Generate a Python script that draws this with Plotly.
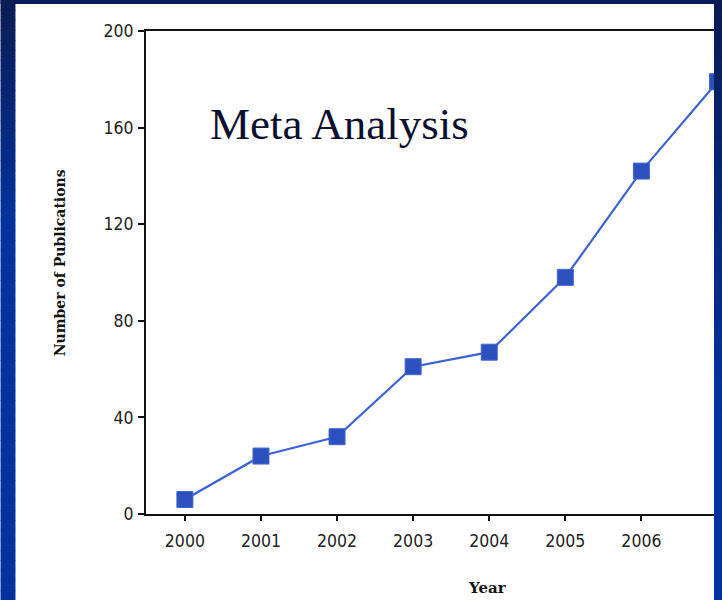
import plotly.graph_objects as go

# Publication counts per year
years = [2000, 2001, 2002, 2003, 2004, 2005, 2006, 2007]
publications = [6, 24, 32, 61, 67, 98, 142, 179]
y_ticks = [0, 40, 80, 120, 160, 200]

W, H = 722, 600
L, R, T, B = 146, 0, 31, 86
PW, PH = W - L - R, H - T - B


def px(x):
    return (x - L) / PW


def py(y):
    return (H - B - y) / PH


def hexmix(c1, c2, t):
    a = [int(c1[i:i + 2], 16) for i in (1, 3, 5)]
    b = [int(c2[i:i + 2], 16) for i in (1, 3, 5)]
    return "#" + "".join(f"{round(a[k] + (b[k] - a[k]) * t):02x}" for k in range(3))


DARK, BRIGHT = "#0a1c52", "#0033a0"

fig = go.Figure()
fig.add_trace(go.Scatter(
    x=years, y=publications, mode="lines+markers",
    line=dict(color="#3d62d2", width=2.2),
    marker=dict(symbol="square", size=16, color="#2d50bf",
                line=dict(color="#4466cc", width=1)),
    cliponaxis=True, hoverinfo="x+y",
))

shapes = []
# slide background strips (top, left and right edges) with a vertical gradient
shapes.append(dict(type="rect", xref="paper", yref="paper", layer="above",
                   x0=px(0), x1=px(W), y0=py(0), y1=py(4),
                   fillcolor=DARK, line=dict(width=0)))
step = 10
for y0 in range(0, H, step):
    tl = min(1.0, (y0 + step / 2) / 230)
    tr = min(1.0, (y0 + step / 2) / 420)
    shapes.append(dict(type="rect", xref="paper", yref="paper", layer="above",
                       x0=px(0), x1=px(15), y0=py(y0), y1=py(y0 + step + 0.5),
                       fillcolor=hexmix(DARK, BRIGHT, tl), line=dict(width=0)))
    shapes.append(dict(type="rect", xref="paper", yref="paper", layer="above",
                       x0=px(716), x1=px(W + 2), y0=py(y0), y1=py(y0 + step + 0.5),
                       fillcolor=hexmix(DARK, BRIGHT, tr), line=dict(width=0)))

tick_font = dict(family="DejaVu Sans Condensed, DejaVu Sans, sans-serif",
                 size=17.5, color="#222222")
title_font = dict(family="DejaVu Serif, Liberation Serif, serif", size=15, color="#111111")

annotations = [
    dict(text="Meta Analysis", xref="paper", yref="paper", x=px(340), y=py(124),
         xanchor="center", yanchor="middle", showarrow=False,
         font=dict(family="Liberation Serif, serif", size=45, color="#0b1030")),
    dict(text="<b>Year</b>", xref="paper", yref="paper", x=px(489), y=py(588),
         xanchor="center", yanchor="middle", showarrow=False, font=title_font),
    dict(text="<b>Number of Publications</b>", xref="paper", yref="paper",
         x=px(60), y=py(263), xanchor="center", yanchor="middle", textangle=-90,
         showarrow=False, font=dict(title_font, size=14)),
]

fig.update_layout(
    width=W, height=H,
    margin=dict(l=L, r=R, t=T, b=B),
    paper_bgcolor="white", plot_bgcolor="white",
    showlegend=False,
    shapes=shapes, annotations=annotations,
    xaxis=dict(range=[1999.489, 2007.033], tickmode="array", tickvals=years,
               ticktext=[str(v) for v in years], ticks="outside", ticklen=5,
               tickwidth=1.5, tickcolor="#111", showline=True, linecolor="#111",
               linewidth=2, mirror=True, showgrid=False, zeroline=False,
               tickfont=tick_font, ticklabelstandoff=5),
    yaxis=dict(range=[0, 200], tickmode="array", tickvals=y_ticks, ticks="outside",
               ticklen=6, tickwidth=1.5, tickcolor="#111", showline=True,
               linecolor="#111", linewidth=2, mirror=True, showgrid=False,
               zeroline=False, tickfont=tick_font, ticklabelstandoff=1),
)

fig.write_html("out.html")
